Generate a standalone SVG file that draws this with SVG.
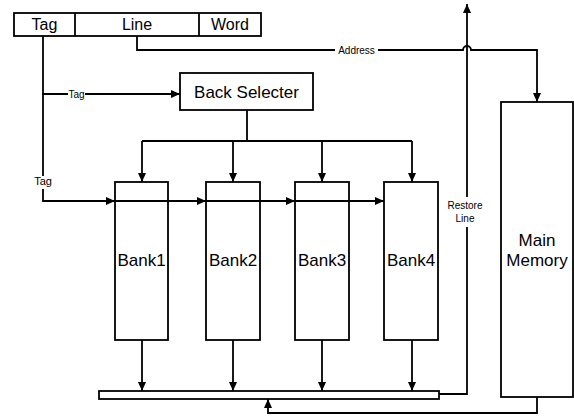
<svg xmlns="http://www.w3.org/2000/svg" width="574" height="417" viewBox="0 0 574 417">
<defs>
<marker id="ah" markerUnits="userSpaceOnUse" markerWidth="9" markerHeight="8" refX="9" refY="4" orient="auto">
<path d="M0,0 L9,4 L0,8 z" fill="#000"/>
</marker>
<style>
.box{fill:#fff;stroke:#000;stroke-width:1.8}
.ln{fill:none;stroke:#000;stroke-width:1.8}
.ar{marker-end:url(#ah)}
.t{font-family:"Liberation Sans",Arial,sans-serif;fill:#000;text-anchor:middle}
.big{font-size:17px}
.mid{font-size:16px}
.sm{font-size:10px}
</style>
</defs>
<rect width="574" height="417" fill="#fff"/>
<g id="address-fields">
<rect class="box" x="14" y="13" width="247" height="23"/>
<line class="ln" x1="75" y1="13" x2="75" y2="36"/>
<line class="ln" x1="199" y1="13" x2="199" y2="36"/>
<text class="t mid" x="44.5" y="30">Tag</text>
<text class="t mid" x="137" y="30">Line</text>
<text class="t mid" x="230" y="30">Word</text>
</g>
<g id="back-selecter">
<rect class="box" x="180" y="73" width="133" height="37"/>
<text class="t big" x="246.5" y="98">Back Selecter</text>
</g>
<g id="bank1">
<rect class="box" x="115" y="182" width="53" height="158"/>
<text class="t big" x="141.5" y="266">Bank1</text>
</g>
<g id="bank2">
<rect class="box" x="206" y="182" width="54" height="158"/>
<text class="t big" x="233" y="266">Bank2</text>
</g>
<g id="bank3">
<rect class="box" x="295" y="182" width="54" height="158"/>
<text class="t big" x="322" y="266">Bank3</text>
</g>
<g id="bank4">
<rect class="box" x="384" y="182" width="54" height="158"/>
<text class="t big" x="411" y="266">Bank4</text>
</g>
<g id="main-memory">
<rect class="box" x="501" y="102" width="72" height="295"/>
<text class="t big" x="537" y="246">Main</text>
<text class="t big" x="537" y="266">Memory</text>
</g>
<g id="bus">
<rect class="box" x="99" y="391" width="340" height="8"/>
</g>
<g id="connectors">
<path class="ln" d="M137,36 V50 H335"/>
<path class="ln ar" d="M378,50 H463 a4,4 0 0 1 8,0 H537 V102"/>
<text class="t sm" x="356.5" y="53.5">Address</text>
<path class="ln" d="M43,36 V94 H68"/>
<path class="ln ar" d="M85,94 H180"/>
<text class="t sm" x="76.5" y="97.5">Tag</text>
<path class="ln" d="M43,94 V176"/>
<text class="t" style="font-size:11px" x="43" y="185">Tag</text>
<path class="ln ar" d="M43,189 V201 H115"/>
<path class="ln ar" d="M115,201 H206"/>
<path class="ln ar" d="M206,201 H295"/>
<path class="ln ar" d="M295,201 H384"/>
<path class="ln" d="M247,110 V141 M142,141 H412"/>
<path class="ln ar" d="M142,141 V182"/>
<path class="ln ar" d="M233,141 V182"/>
<path class="ln ar" d="M322,141 V182"/>
<path class="ln ar" d="M412,141 V182"/>
<path class="ln ar" d="M142,340 V391"/>
<path class="ln ar" d="M233,340 V391"/>
<path class="ln ar" d="M322,340 V391"/>
<path class="ln ar" d="M412,340 V391"/>
<path class="ln" d="M439,394 H467 V227"/>
<path class="ln ar" d="M467,197 V4"/>
<text class="t sm" x="465" y="209">Restore</text>
<text class="t sm" x="465" y="222">Line</text>
<path class="ln ar" d="M537,397 V413 H268 V399"/>
</g>
</svg>
